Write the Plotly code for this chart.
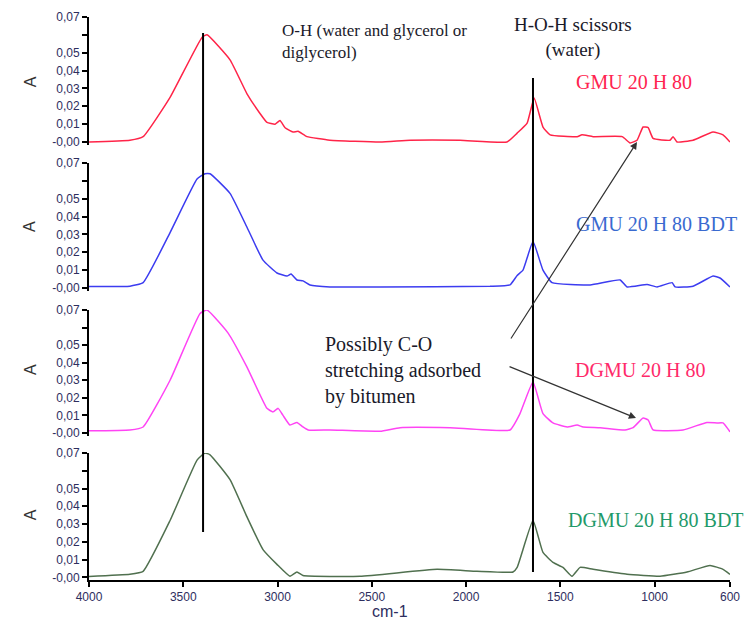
import plotly.graph_objects as go

# Spectra (wavenumber cm-1, absorbance)
wn_gmu = [4000, 3783, 3713, 3570, 3400, 3374, 3252, 3162, 3093, 3056, 3013, 2987, 2960, 2918, 2891,
          2844, 2722, 2456, 2297, 2032, 1783, 1729, 1676, 1639, 1592, 1554, 1411, 1385, 1326, 1172,
          1130, 1093, 1061, 1034, 1008, 918, 902, 881, 796, 690, 637, 600]
a_gmu = [0.0, 0.001, 0.003, 0.025, 0.0587, 0.060, 0.046, 0.027, 0.016, 0.011, 0.010, 0.012, 0.008, 0.0056, 0.006,
         0.003, 0.001, 0.0, 0.001, 0.001, 0.0, 0.005, 0.0106, 0.0246, 0.0084, 0.004, 0.003, 0.004, 0.003, 0.003,
         -0.0005, 0.001, 0.0084, 0.008, 0.002, 0.001, 0.003, 0.0, 0.001, 0.0056, 0.004, 0.0]

wn_gmu_bdt = [4000, 3783, 3713, 3570, 3427, 3385, 3358, 3252, 3162, 3077, 3003, 2950, 2928, 2897, 2865,
              2828, 2722, 2456, 1873, 1767, 1729, 1698, 1645, 1592, 1544, 1342, 1183, 1146, 1040, 987,
              907, 891, 796, 690, 653, 600]
a_gmu_bdt = [0.0008, 0.001, 0.003, 0.031, 0.061, 0.064, 0.064, 0.053, 0.034, 0.0156, 0.0084, 0.0067, 0.0078, 0.0045, 0.004,
             0.0017, 0.0006, 0.0006, 0.001, 0.0017, 0.007, 0.010, 0.026, 0.010, 0.003, 0.0017, 0.0045, 0.0006, 0.002, 0.0006,
             0.003, 0.0006, 0.001, 0.0067, 0.0056, 0.0006]

wn_dgmu = [4000, 3783, 3713, 3570, 3411, 3374, 3263, 3162, 3056, 3024, 2997, 2971, 2934, 2897, 2865,
           2838, 2722, 2456, 2350, 2085, 1767, 1714, 1645, 1592, 1539, 1464, 1411, 1379, 1289, 1157,
           1114, 1061, 1034, 1008, 849, 722, 669, 637, 600]
a_dgmu = [0.0012, 0.0017, 0.0034, 0.030, 0.068, 0.070, 0.057, 0.0375, 0.014, 0.012, 0.014, 0.010, 0.0045, 0.006, 0.0034,
          0.0017, 0.0017, 0.001, 0.003, 0.003, 0.0017, 0.011, 0.029, 0.011, 0.0057, 0.0034, 0.0045, 0.0034, 0.003, 0.0017,
          0.003, 0.0085, 0.0074, 0.0017, 0.0017, 0.006, 0.0057, 0.0057, 0.0006]

wn_dgmu_bdt = [4000, 3783, 3713, 3570, 3427, 3385, 3358, 3252, 3162, 3077, 3003, 2934, 2897, 2865, 2562,
               2154, 1942, 1751, 1729, 1645, 1592, 1539, 1486, 1438, 1395, 1326, 1146, 971, 828, 706,
               637, 600]
a_dgmu_bdt = [0.0005, 0.0017, 0.0034, 0.032, 0.066, 0.070, 0.069, 0.055, 0.034, 0.0156, 0.0073, 0.0006, 0.003, 0.001, 0.0006,
              0.0045, 0.0034, 0.003, 0.0056, 0.032, 0.014, 0.0084, 0.0056, 0.0006, 0.0056, 0.0045, 0.0017, 0.0006, 0.003, 0.0067,
              0.0045, 0.0017]

sample_names = ["GMU 20 H 80", "GMU 20 H 80 BDT", "DGMU 20 H 80", "DGMU 20 H 80 BDT"]
line_colors = ["#ff2448", "#3c3cf0", "#ff44f4", "#50704f"]
label_colors = ["#ff2450", "#3a6ad0", "#ff2a6a", "#1f9a6a"]

x_ticks = [4000, 3500, 3000, 2500, 2000, 1500, 1000, 600]
y_ticks = [0, 0.01, 0.02, 0.03, 0.04, 0.05, 0.06, 0.07]
y_ticktext = ["-0,00", "0,01", "0,02", "0,03", "0,04", "0,05", "", "0,07"]

oh_band = 3395
hoh_band = 1645

spectra = [(wn_gmu, a_gmu), (wn_gmu_bdt, a_gmu_bdt), (wn_dgmu, a_dgmu), (wn_dgmu_bdt, a_dgmu_bdt)]
domains = [[0.7732, 1.0], [0.5139, 0.7407], [0.2565, 0.4796], [0.0, 0.2256]]
label_pos = [(0.8502, 0.8845), (0.8861, 0.6323), (0.8596, 0.3730), (0.8846, 0.1066)]
a_label_y = [0.884, 0.627, 0.373, 0.115]

tick_font = dict(family="Liberation Sans, Arial", size=12, color="#2e2e5e")
serif = "Liberation Serif, Times New Roman"

fig = go.Figure()
for i, (wn, a) in enumerate(spectra):
    fig.add_trace(go.Scatter(
        x=wn, y=a, mode="lines",
        line=dict(color=line_colors[i], width=1.5, shape="spline", smoothing=0.4),
        xaxis="x", yaxis="y" if i == 0 else f"y{i + 1}",
        showlegend=False, hoverinfo="skip"
    ))

layout = dict(
    width=753, height=626,
    margin=dict(l=89, r=23, t=17, b=46, autoexpand=False),
    paper_bgcolor="white", plot_bgcolor="white",
    showlegend=False,
    xaxis=dict(
        range=[4000, 600], tickvals=x_ticks, ticktext=[str(t) for t in x_ticks],
        showline=True, linecolor="black", linewidth=2, ticks="outside", ticklen=5,
        tickwidth=1.5, tickcolor="black", showgrid=False, zeroline=False,
        anchor="y4", tickfont=tick_font, automargin=False
    ),
)
for i in range(4):
    key = "yaxis" if i == 0 else f"yaxis{i + 1}"
    layout[key] = dict(
        domain=domains[i], range=[-0.0015, 0.07], anchor="x",
        tickvals=y_ticks, ticktext=y_ticktext,
        showline=True, linecolor="black", linewidth=2, ticks="outside", ticklen=5,
        tickwidth=1.5, tickcolor="black", showgrid=False, zeroline=False,
        tickfont=tick_font, automargin=False
    )
fig.update_layout(**layout)

# Marker lines for the O-H and H-O-H bands
fig.add_shape(type="line", xref="x", yref="paper", x0=oh_band, x1=oh_band, y0=0.0853, y1=0.9716,
              line=dict(color="black", width=2))
fig.add_shape(type="line", xref="x", yref="paper", x0=hoh_band, x1=hoh_band, y0=0.0142, y1=0.8917,
              line=dict(color="black", width=2))

annotations = []
for i in range(4):
    annotations.append(dict(
        text=sample_names[i], xref="paper", yref="paper", x=label_pos[i][0], y=label_pos[i][1],
        xanchor="center", yanchor="middle", showarrow=False,
        font=dict(family=serif, size=20, color=label_colors[i])
    ))
    annotations.append(dict(
        text="A", xref="paper", yref="paper", x=-0.092, y=a_label_y[i],
        xanchor="center", yanchor="middle", showarrow=False, textangle=-90,
        font=dict(family="Liberation Sans, Arial", size=16, color="#333333")
    ))

annotations += [
    dict(text="O-H (water and glycerol or<br>diglycerol)", xref="paper", yref="paper",
         x=0.298, y=0.997, xanchor="left", yanchor="top", align="left", showarrow=False,
         font=dict(family=serif, size=17, color="#1a1a2a")),
    dict(text="H-O-H scissors<br>(water)", xref="paper", yref="paper",
         x=0.755, y=1.009, xanchor="center", yanchor="top", align="center", showarrow=False,
         font=dict(family=serif, size=19, color="#1a1a2a")),
    dict(text="Possibly C-O<br>stretching adsorbed<br>by bitumen", xref="paper", yref="paper",
         x=0.365, y=0.442, xanchor="left", yanchor="top", align="left", showarrow=False,
         font=dict(family=serif, size=20, color="#1a1a2a")),
    dict(text="cm-1", xref="paper", yref="paper", x=0.4696, y=-0.0568,
         xanchor="center", yanchor="middle", showarrow=False,
         font=dict(family="Liberation Sans, Arial", size=16, color="#2e2e5e")),
    # arrows from the C-O note to the ~1080 cm-1 peaks (tail offsets in pixels)
    dict(text="", xref="paper", yref="paper", x=0.8549, y=0.7780, ax=-127, ay=198,
         showarrow=True, arrowhead=2, arrowsize=1.2, arrowwidth=1.2, arrowcolor="#333333"),
    dict(text="", xref="paper", yref="paper", x=0.8534, y=0.2877, ax=-128, ay=-52,
         showarrow=True, arrowhead=2, arrowsize=1.2, arrowwidth=1.2, arrowcolor="#333333"),
]
fig.update_layout(annotations=annotations)

# drop the default page margin so the 753x626 figure fills the window exactly
fig.write_html("out.html", config={"displayModeBar": False},
               post_script="document.body.style.margin='0px';")
